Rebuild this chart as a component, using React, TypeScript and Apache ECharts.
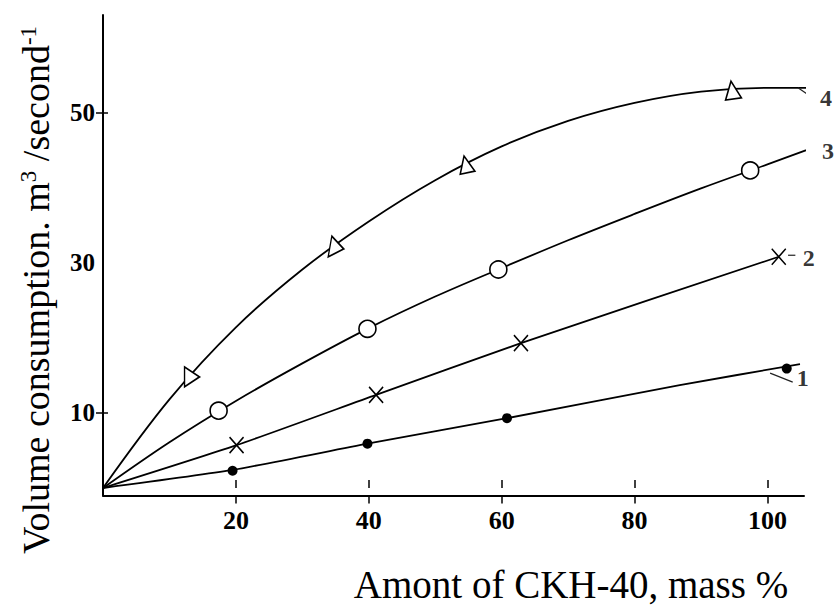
import React, { useEffect, useRef } from 'react';
import * as echarts from 'echarts';

// Axis ticks
const xTickValues = [20, 40, 60, 80, 100];
const yLabelValues = [10, 30, 50];
const yTickValues = [10, 50];

// Curve traces
const curve1Line = [[0, 0], [19.5, 2.4], [39.8, 5.9], [60.8, 9.3], [86.8, 13.7], [104.9, 16.5]];
const curve2Line = [[0, 0], [20.1, 5.7], [41.1, 12.4], [62.9, 19.3], [101.7, 30.8]];
const curve3Line = [[0, 0], [10, 6.1], [20, 11.6], [30, 16.6], [40, 21.3], [50, 25.5], [60, 29.3], [70, 33.0], [80, 36.5], [90, 39.9], [100, 43.1], [106.8, 45.3]];
const curve4Line = [[0, 0], [10, 11.8], [20, 21.4], [30, 29.1], [40, 35.5], [50, 41.0], [60, 45.5], [70, 48.9], [80, 51.3], [90, 52.8], [100, 53.3], [106, 53.3]];

// Measured points (markers)
const curve1Points = [[19.5, 2.3], [39.8, 5.9], [60.8, 9.3], [102.9, 15.9]];
const curve2Points = [[20.1, 5.7], [41.1, 12.4], [62.9, 19.3], [101.7, 30.8]];
const curve3Points = [[17.4, 10.3], [39.8, 21.2], [59.5, 29.1], [97.4, 42.3]];
const curve4Points = [[13.4, 14.8], [35.2, 32.0], [54.6, 43.1], [94.7, 53.0]];

// Curve number labels and their leader lines
const curveLabelNames = ['1', '2', '3', '4'];
const curveLabelPos = [[105.3, 14.6], [106.2, 30.7], [109.1, 44.9], [108.8, 52.0]];
const leaderLines = [
  [[100.4, 15.3], [103.8, 14.1]],
  [[103.1, 31.0], [104.2, 31.0]],
  [[106.8, 45.3], [108.1, 45.3]],
  [[104.6, 53.3], [107.6, 51.5]],
];

// Triangle marker orientation / size (style)
const triRotate = [-90, -100, 12, 8];
const triSize = [[20, 15], [21, 14], [15, 17], [16, 18]];

const SERIF = "'Liberation Serif', 'Times New Roman', serif";

export default function App() {
  const ref = useRef<HTMLDivElement>(null);

  useEffect(() => {
    document.body.style.margin = '0';
    if (!ref.current) return;
    const chart = echarts.init(ref.current, null, { renderer: 'svg' });

    const lineBase = {
      type: 'line' as const,
      symbol: 'none',
      clip: false,
      lineStyle: { color: '#000', width: 1.8 },
      z: 2,
    };

    const option: any = {
      animation: false,
      backgroundColor: '#fff',
      grid: { left: 103, right: 31, top: 15, bottom: 111.5 },
      xAxis: [
        {
          type: 'value',
          min: 0,
          max: 105.5,
          interval: 20,
          axisLine: { show: true, onZero: false, lineStyle: { color: '#000', width: 2 } },
          axisTick: { show: true, customValues: xTickValues, length: 8, lineStyle: { color: '#000', width: 1.5 } },
          axisLabel: {
            show: true,
            customValues: xTickValues,
            margin: 12,
            color: '#000',
            fontFamily: SERIF,
            fontWeight: 'bold',
            fontSize: 26,
            formatter: (v: number) => (v === 0 ? '' : String(v)),
          },
          splitLine: { show: false },
        },
        {
          type: 'value',
          min: 0,
          max: 105.5,
          interval: 20,
          position: 'bottom',
          axisLine: { show: false },
          axisTick: { show: true, inside: true, customValues: xTickValues, length: 8, lineStyle: { color: '#000', width: 1.5 } },
          axisLabel: { show: false },
          splitLine: { show: false },
        },
      ],
      yAxis: [
        {
          type: 'value',
          min: -1,
          max: 63,
          axisLine: { show: true, onZero: false, lineStyle: { color: '#000', width: 2 } },
          axisTick: { show: true, customValues: yTickValues, length: 7, lineStyle: { color: '#000', width: 1.5 } },
          axisLabel: {
            show: true,
            customValues: yLabelValues,
            margin: 8,
            color: '#000',
            fontFamily: SERIF,
            fontWeight: 'bold',
            fontSize: 25,
          },
          splitLine: { show: false },
        },
        {
          type: 'value',
          min: -1,
          max: 63,
          position: 'left',
          axisLine: { show: false },
          axisTick: { show: true, inside: true, customValues: yTickValues, length: 5, lineStyle: { color: '#000', width: 1.5 } },
          axisLabel: { show: false },
          splitLine: { show: false },
        },
      ],
      graphic: [
        {
          type: 'text',
          x: 36,
          y: 290,
          rotation: Math.PI / 2,
          style: {
            text: '{a|Volume consumption. m}{s|3}{a| /second}{s|-1}',
            align: 'center',
            verticalAlign: 'middle',
            fill: '#000',
            rich: {
              a: { fontFamily: SERIF, fontSize: 38, fill: '#000', verticalAlign: 'bottom' },
              s: { fontFamily: SERIF, fontSize: 23, fill: '#000', verticalAlign: 'top' },
            },
          },
        },
        {
          type: 'text',
          x: 571,
          y: 584,
          style: {
            text: 'Amont of CKH-40, mass %',
            align: 'center',
            verticalAlign: 'middle',
            fontFamily: SERIF,
            fontSize: 39,
            fill: '#000',
          },
        },
      ],
      series: [
        { ...lineBase, name: 'c1', data: curve1Line, smooth: 0.2 },
        { ...lineBase, name: 'c2', data: curve2Line, smooth: 0.2 },
        { ...lineBase, name: 'c3', data: curve3Line, smooth: 0.35 },
        { ...lineBase, name: 'c4', data: curve4Line, smooth: 0.35 },
        ...leaderLines.map((seg, i) => ({
          type: 'line',
          symbol: 'none',
          clip: false,
          data: seg,
          lineStyle: { color: i === 2 ? '#888' : '#222', width: 1.2 },
          z: 2,
        })),
        {
          type: 'scatter',
          name: 'p1',
          clip: false,
          data: curve1Points,
          symbol: 'circle',
          symbolSize: 10,
          itemStyle: { color: '#000', opacity: 1 },
          z: 3,
        },
        {
          type: 'scatter',
          name: 'p2',
          clip: false,
          data: curve2Points,
          symbol: 'path://M0,0L12,14M12,0L0,14',
          symbolSize: [14, 16],
          itemStyle: { color: 'transparent', borderColor: '#000', borderWidth: 1.6, opacity: 1 },
          z: 3,
        },
        {
          type: 'scatter',
          name: 'p3',
          clip: false,
          data: curve3Points,
          symbol: 'circle',
          symbolSize: 17,
          itemStyle: { color: '#fff', borderColor: '#000', borderWidth: 1.6, opacity: 1 },
          z: 3,
        },
        {
          type: 'scatter',
          name: 'p4',
          clip: false,
          data: curve4Points.map((p, i) => ({ value: p, symbolRotate: triRotate[i], symbolSize: triSize[i] })),
          symbol: 'triangle',
          itemStyle: { color: '#fff', borderColor: '#000', borderWidth: 1.6, opacity: 1 },
          z: 3,
        },
        {
          type: 'scatter',
          name: 'labels',
          clip: false,
          data: curveLabelNames.map((n, i) => ({ name: n, value: curveLabelPos[i] })),
          symbolSize: 1,
          itemStyle: { color: 'transparent' },
          label: {
            show: true,
            position: 'inside',
            formatter: '{b}',
            fontFamily: SERIF,
            fontWeight: 'bold',
            fontSize: 24,
            color: '#000',
          },
          z: 4,
        },
      ],
    };

    chart.setOption(option);
    return () => chart.dispose();
  }, []);

  return <div ref={ref} style={{ width: 835, height: 607 }} />;
}
